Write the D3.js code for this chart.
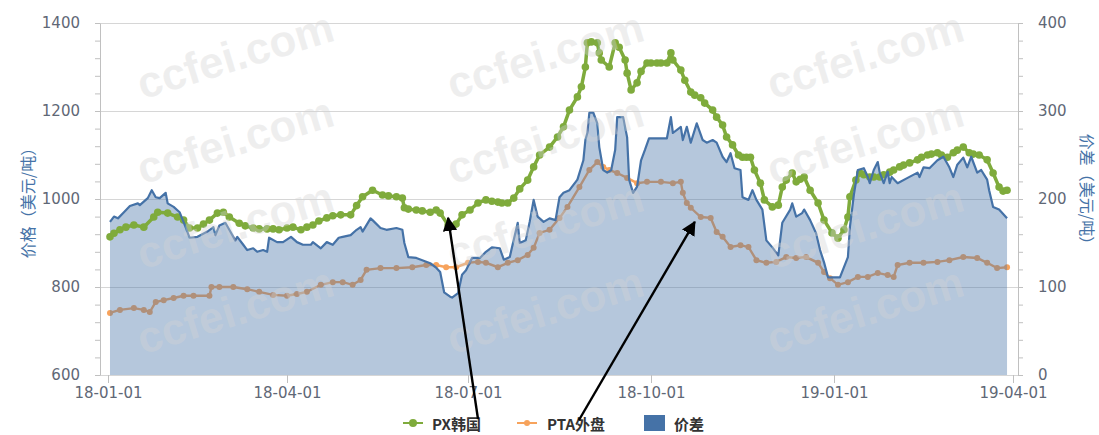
<!DOCTYPE html>
<html><head><meta charset="utf-8">
<script src="https://cdn.jsdelivr.net/npm/d3@7"></script>
<style>
body{margin:0;background:#fff;}
svg{display:block;font-family:"DejaVu Sans",sans-serif;}
</style>
</head><body>
<svg id="chart" width="1099" height="435"></svg>
<script>
// ---------------- DATA ----------------
const seriesNames = ["PX韩国", "PTA外盘", "价差"];
const xTickLabels = ["18-01-01","18-04-01","18-07-01","18-10-01","19-01-01","19-04-01"];
const leftTicks = [600, 800, 1000, 1200, 1400];
const rightTicks = [0, 100, 200, 300, 400];

const pxDates = ["2018-01-02","2018-01-04","2018-01-07","2018-01-10","2018-01-14","2018-01-19","2018-01-24","2018-01-26","2018-01-31","2018-02-05","2018-02-08","2018-02-11","2018-02-15","2018-02-18","2018-02-21","2018-02-25","2018-02-28","2018-03-03","2018-03-08","2018-03-11","2018-03-15","2018-03-18","2018-03-22","2018-03-25","2018-03-28","2018-04-01","2018-04-04","2018-04-08","2018-04-11","2018-04-14","2018-04-17","2018-04-21","2018-04-24","2018-04-28","2018-05-03","2018-05-06","2018-05-09","2018-05-14","2018-05-19","2018-05-22","2018-05-26","2018-05-29","2018-05-30","2018-06-01","2018-06-05","2018-06-08","2018-06-12","2018-06-15","2018-06-17","2018-06-21","2018-06-25","2018-06-28","2018-07-02","2018-07-06","2018-07-10","2018-07-13","2018-07-16","2018-07-18","2018-07-21","2018-07-24","2018-07-27","2018-07-31","2018-08-03","2018-08-06","2018-08-11","2018-08-15","2018-08-18","2018-08-21","2018-08-25","2018-08-27","2018-08-29","2018-08-30","2018-09-01","2018-09-04","2018-09-05","2018-09-06","2018-09-10","2018-09-13","2018-09-15","2018-09-18","2018-09-19","2018-09-21","2018-09-24","2018-09-26","2018-09-29","2018-10-01","2018-10-04","2018-10-06","2018-10-09","2018-10-11","2018-10-12","2018-10-16","2018-10-18","2018-10-21","2018-10-23","2018-10-26","2018-10-28","2018-11-01","2018-11-03","2018-11-06","2018-11-08","2018-11-11","2018-11-14","2018-11-16","2018-11-18","2018-11-20","2018-11-22","2018-11-25","2018-11-27","2018-12-01","2018-12-04","2018-12-06","2018-12-08","2018-12-11","2018-12-13","2018-12-15","2018-12-17","2018-12-20","2018-12-24","2018-12-27","2018-12-31","2019-01-03","2019-01-06","2019-01-08","2019-01-09","2019-01-12","2019-01-14","2019-01-16","2019-01-19","2019-01-21","2019-01-24","2019-01-26","2019-01-29","2019-01-31","2019-02-03","2019-02-05","2019-02-08","2019-02-12","2019-02-14","2019-02-17","2019-02-19","2019-02-22","2019-02-24","2019-02-27","2019-03-02","2019-03-04","2019-03-07","2019-03-10","2019-03-12","2019-03-15","2019-03-19","2019-03-22","2019-03-25","2019-03-27","2019-03-29"];
const pxValues = [914,922,930,936,941,936,959,970,968,959,952,934,934,943,952,968,970,959,945,939,934,932,932,932,930,934,936,930,936,941,950,957,962,964,964,985,1005,1020,1009,1007,1005,1002,980,977,975,973,970,975,968,941,943,964,975,991,998,995,993,991,991,1002,1023,1043,1073,1100,1118,1141,1164,1202,1232,1255,1300,1355,1357,1355,1332,1316,1300,1355,1345,1316,1286,1248,1264,1290,1309,1309,1309,1309,1309,1332,1316,1293,1270,1243,1236,1230,1218,1202,1186,1168,1141,1123,1100,1095,1095,1095,1066,1036,998,982,986,1027,1043,1059,1039,1045,1050,1020,991,952,923,911,930,959,1005,1043,1059,1055,1050,1050,1050,1055,1061,1066,1073,1077,1082,1089,1095,1100,1102,1105,1100,1095,1105,1111,1118,1105,1102,1100,1089,1059,1027,1018,1020];

const ptaDates = ["2018-01-02","2018-01-07","2018-01-14","2018-01-19","2018-01-22","2018-01-25","2018-01-29","2018-02-03","2018-02-08","2018-02-13","2018-02-21","2018-02-22","2018-02-26","2018-03-05","2018-03-12","2018-03-18","2018-03-25","2018-04-01","2018-04-06","2018-04-11","2018-04-18","2018-04-24","2018-04-29","2018-05-04","2018-05-08","2018-05-11","2018-05-18","2018-05-26","2018-06-03","2018-06-10","2018-06-15","2018-06-20","2018-06-25","2018-07-01","2018-07-06","2018-07-10","2018-07-16","2018-07-21","2018-07-26","2018-07-31","2018-08-03","2018-08-06","2018-08-11","2018-08-16","2018-08-20","2018-08-26","2018-08-31","2018-09-04","2018-09-07","2018-09-10","2018-09-14","2018-09-19","2018-09-24","2018-09-29","2018-10-06","2018-10-12","2018-10-16","2018-10-17","2018-10-19","2018-10-21","2018-10-26","2018-10-31","2018-11-03","2018-11-06","2018-11-10","2018-11-15","2018-11-19","2018-11-23","2018-11-28","2018-12-03","2018-12-08","2018-12-13","2018-12-18","2018-12-24","2018-12-27","2018-12-30","2019-01-03","2019-01-08","2019-01-13","2019-01-18","2019-01-23","2019-01-28","2019-01-31","2019-02-02","2019-02-08","2019-02-15","2019-02-22","2019-02-28","2019-03-07","2019-03-14","2019-03-19","2019-03-24","2019-03-29"];
const ptaValues = [741,748,752,748,743,766,770,775,780,780,780,800,800,800,795,789,782,780,784,789,805,811,811,805,816,839,843,843,845,850,850,845,845,855,857,855,845,855,861,873,889,923,930,957,982,1027,1066,1084,1073,1066,1059,1048,1036,1039,1039,1036,1039,1014,991,980,959,957,925,914,891,895,891,861,855,857,868,866,868,855,834,820,805,811,823,823,832,827,823,850,855,855,857,861,868,866,855,843,845];

const spreadDates = ["2018-01-02","2018-01-04","2018-01-06","2018-01-09","2018-01-12","2018-01-16","2018-01-17","2018-01-21","2018-01-23","2018-01-25","2018-01-27","2018-01-30","2018-01-31","2018-02-03","2018-02-06","2018-02-09","2018-02-11","2018-02-15","2018-02-20","2018-02-23","2018-02-24","2018-02-26","2018-03-01","2018-03-03","2018-03-06","2018-03-07","2018-03-10","2018-03-12","2018-03-15","2018-03-17","2018-03-20","2018-03-22","2018-03-23","2018-03-27","2018-03-30","2018-04-03","2018-04-06","2018-04-09","2018-04-13","2018-04-14","2018-04-18","2018-04-21","2018-04-24","2018-04-27","2018-04-29","2018-05-03","2018-05-06","2018-05-08","2018-05-09","2018-05-13","2018-05-14","2018-05-18","2018-05-21","2018-05-26","2018-05-29","2018-05-30","2018-06-01","2018-06-05","2018-06-12","2018-06-15","2018-06-17","2018-06-19","2018-06-22","2018-06-23","2018-06-26","2018-06-28","2018-06-30","2018-07-03","2018-07-07","2018-07-10","2018-07-13","2018-07-17","2018-07-19","2018-07-22","2018-07-23","2018-07-26","2018-07-27","2018-07-30","2018-08-01","2018-08-03","2018-08-05","2018-08-08","2018-08-11","2018-08-14","2018-08-16","2018-08-18","2018-08-21","2018-08-25","2018-08-28","2018-08-29","2018-08-30","2018-08-31","2018-09-02","2018-09-04","2018-09-05","2018-09-07","2018-09-09","2018-09-11","2018-09-13","2018-09-14","2018-09-17","2018-09-19","2018-09-20","2018-09-22","2018-09-24","2018-09-26","2018-09-28","2018-09-30","2018-10-04","2018-10-09","2018-10-11","2018-10-12","2018-10-16","2018-10-17","2018-10-19","2018-10-21","2018-10-24","2018-10-27","2018-10-29","2018-11-01","2018-11-03","2018-11-06","2018-11-08","2018-11-10","2018-11-12","2018-11-15","2018-11-16","2018-11-19","2018-11-21","2018-11-23","2018-11-26","2018-11-28","2018-12-01","2018-12-04","2018-12-06","2018-12-10","2018-12-11","2018-12-13","2018-12-16","2018-12-17","2018-12-20","2018-12-23","2018-12-25","2018-12-27","2018-12-29","2019-01-04","2019-01-08","2019-01-09","2019-01-11","2019-01-13","2019-01-16","2019-01-18","2019-01-19","2019-01-21","2019-01-23","2019-01-24","2019-01-26","2019-01-28","2019-01-29","2019-01-30","2019-02-02","2019-02-07","2019-02-12","2019-02-13","2019-02-15","2019-02-18","2019-02-22","2019-02-25","2019-02-28","2019-03-02","2019-03-04","2019-03-07","2019-03-09","2019-03-11","2019-03-14","2019-03-16","2019-03-19","2019-03-20","2019-03-22","2019-03-25","2019-03-29"];
const spreadValues = [174,180,178,185,192,195,193,201,210,202,201,207,195,191,185,168,156,157,163,168,159,170,173,165,153,157,148,142,144,140,142,140,156,151,151,157,151,148,148,151,144,151,148,156,157,159,165,168,163,178,176,167,165,167,165,150,134,133,127,122,117,94,89,88,93,114,119,133,133,140,145,144,131,134,144,173,150,153,174,199,180,174,178,176,202,207,210,222,244,267,275,298,298,286,259,233,230,233,256,293,293,270,222,207,214,244,256,269,269,269,293,275,282,267,282,264,286,267,264,267,264,248,242,252,235,233,202,199,210,199,188,153,145,136,173,188,195,180,184,188,176,161,142,128,111,111,134,168,205,233,235,225,218,233,242,230,218,231,218,225,218,224,230,225,236,235,244,248,236,225,239,247,236,248,230,233,222,210,191,188,178];

// annotation arrows (tip anchored on data coordinates)
const arrowTipDates = ["2018-06-21", "2018-10-23"];
const arrowTipValues = [957, 948];

// ---------------- CHART ----------------
const svg = d3.select("#chart");
const plot = {left: 100, right: 1018, top: 23, bottom: 375};
const parse = d3.timeParse("%Y-%m-%d");
const parseShort = d3.timeParse("%y-%m-%d");

const x = d3.scaleTime()
  .domain([parse("2018-01-01"), parse("2019-04-01")])
  .range([108, 1013]);
const yL = d3.scaleLinear().domain([600, 1400]).range([plot.bottom, plot.top]);
const yR = d3.scaleLinear().domain([0, 400]).range([plot.bottom, plot.top]);

const px = pxDates.map((d, i) => ({date: parse(d), value: pxValues[i]}));
const pta = ptaDates.map((d, i) => ({date: parse(d), value: ptaValues[i]}));
const spread = spreadDates.map((d, i) => ({date: parse(d), value: spreadValues[i]}));

const green = "#7fab3c", orange = "#f7a35c", blue = "#4572A7";

// grid
svg.append("g").selectAll("line").data(leftTicks).join("line")
  .attr("x1", plot.left).attr("x2", plot.right)
  .attr("y1", d => yL(d)).attr("y2", d => yL(d))
  .attr("stroke", "#d6d6d6").attr("stroke-width", 1).attr("shape-rendering", "crispEdges");

// PTA (drawn below the area)
const lineL = d3.line().x(d => x(d.date)).y(d => yL(d.value));
svg.append("path").datum(pta).attr("d", lineL)
  .attr("fill", "none").attr("stroke", orange).attr("stroke-width", 2.4);
svg.append("g").selectAll("circle").data(pta).join("circle")
  .attr("cx", d => x(d.date)).attr("cy", d => yL(d.value)).attr("r", 3).attr("fill", orange);

// spread area
const area = d3.area().x(d => x(d.date)).y0(yR(0)).y1(d => yR(d.value));
svg.append("path").datum(spread).attr("d", area)
  .attr("fill", blue).attr("fill-opacity", 0.4);

// PX
svg.append("path").datum(px).attr("d", lineL)
  .attr("fill", "none").attr("stroke", green).attr("stroke-width", 3.5).attr("stroke-linejoin", "round");
svg.append("g").selectAll("circle").data(px).join("circle")
  .attr("cx", d => x(d.date)).attr("cy", d => yL(d.value)).attr("r", 3.8).attr("fill", green);

// spread line
const lineR = d3.line().x(d => x(d.date)).y(d => yR(d.value));
svg.append("path").datum(spread).attr("d", lineR)
  .attr("fill", "none").attr("stroke", blue).attr("stroke-width", 2.2).attr("stroke-linejoin", "round");

// axes
function styleAxis(g) {
  g.select(".domain").attr("stroke", "#c0c0c0");
  g.selectAll(".tick line").attr("stroke", "#c0c0c0");
  g.selectAll("text").attr("fill", "#5f6876").style("font-size", "15px").style("font-family", "'DejaVu Sans', sans-serif");
}
svg.append("g").attr("transform", `translate(${plot.left},0)`)
  .call(d3.axisLeft(yL).tickValues(d3.range(600, 1401, 40)).tickSize(5).tickSizeOuter(0).tickPadding(15)
    .tickFormat(d => leftTicks.includes(d) ? d : ""))
  .call(styleAxis);
svg.append("g").attr("transform", `translate(${plot.right},0)`)
  .call(d3.axisRight(yR).tickValues(d3.range(0, 401, 20)).tickSize(5).tickSizeOuter(0).tickPadding(15)
    .tickFormat(d => rightTicks.includes(d) ? d : ""))
  .call(styleAxis);
svg.append("g").attr("transform", `translate(0,${plot.bottom})`)
  .call(d3.axisBottom(x).tickValues(xTickLabels.map(parseShort)).tickSize(8).tickSizeOuter(0).tickPadding(4)
    .tickFormat(d3.timeFormat("%y-%m-%d")))
  .call(styleAxis)
  .call(g => g.select(".domain").remove());

// axis titles
svg.append("text").attr("transform", `translate(27,${(plot.top + plot.bottom) / 2}) rotate(-90)`)
  .attr("text-anchor", "middle").attr("dominant-baseline", "central")
  .attr("fill", blue).style("font-size", "16px").style("font-family", "'Noto Sans CJK SC', sans-serif")
  .text("价格（美元/吨）");
svg.append("text").attr("transform", `translate(1088,${(plot.top + plot.bottom) / 2 - 6}) rotate(90)`)
  .attr("text-anchor", "middle").attr("dominant-baseline", "central")
  .attr("fill", blue).style("font-size", "16px").style("font-family", "'Noto Sans CJK SC', sans-serif")
  .text("价差（美元/吨）");

// legend
const legend = svg.append("g").attr("transform", "translate(0,423)")
  .style("font-family", "'Noto Sans CJK SC', sans-serif").style("font-size", "15px").style("font-weight", "bold");
const lg1 = legend.append("g").attr("transform", "translate(403,0)");
lg1.append("line").attr("x1", 0).attr("x2", 20).attr("stroke", green).attr("stroke-width", 2);
lg1.append("circle").attr("cx", 10).attr("r", 4).attr("fill", green);
lg1.append("text").attr("x", 29).attr("dominant-baseline", "central").attr("fill", "#333").text(seriesNames[0]);
const lg2 = legend.append("g").attr("transform", "translate(517,0)");
lg2.append("line").attr("x1", 0).attr("x2", 20).attr("stroke", orange).attr("stroke-width", 2);
lg2.append("circle").attr("cx", 10).attr("r", 3).attr("fill", orange);
lg2.append("text").attr("x", 30).attr("dominant-baseline", "central").attr("fill", "#333").text(seriesNames[1]);
const lg3 = legend.append("g").attr("transform", "translate(644,0)");
lg3.append("rect").attr("x", 0).attr("y", -8).attr("width", 21).attr("height", 16).attr("fill", blue);
lg3.append("text").attr("x", 30).attr("dominant-baseline", "central").attr("fill", "#333").text(seriesNames[2]);

// watermark
const wm = svg.append("g").attr("pointer-events", "none");
const wmX = [235, 545, 865], wmY = [55, 140, 225, 310];
wmY.forEach(yy => wmX.forEach(xx => {
  wm.append("text").attr("transform", `translate(${xx},${yy}) rotate(-17)`)
    .attr("text-anchor", "middle").attr("dominant-baseline", "central")
    .style("font-family", "'Liberation Sans', Arial, sans-serif").style("font-weight", "bold").style("font-size", "44px")
    .attr("fill", "#d4d4d4").attr("fill-opacity", 0.38).text("ccfei.com");
}));

// annotation arrows
const defs = svg.append("defs");
defs.append("marker").attr("id", "ah").attr("viewBox", "0 0 10 10").attr("refX", 9).attr("refY", 5)
  .attr("markerWidth", 6).attr("markerHeight", 6).attr("orient", "auto-start-reverse").attr("markerUnits", "strokeWidth")
  .append("path").attr("d", "M0,0 L10,5 L0,10 z").attr("fill", "#000");
const tails = [[478, 419], [579, 420]];
arrowTipDates.forEach((d, i) => {
  svg.append("line").attr("x1", tails[i][0]).attr("y1", tails[i][1])
    .attr("x2", x(parse(d))).attr("y2", yL(arrowTipValues[i]))
    .attr("stroke", "#000").attr("stroke-width", 2.4).attr("marker-end", "url(#ah)");
});
</script>
</body></html>
